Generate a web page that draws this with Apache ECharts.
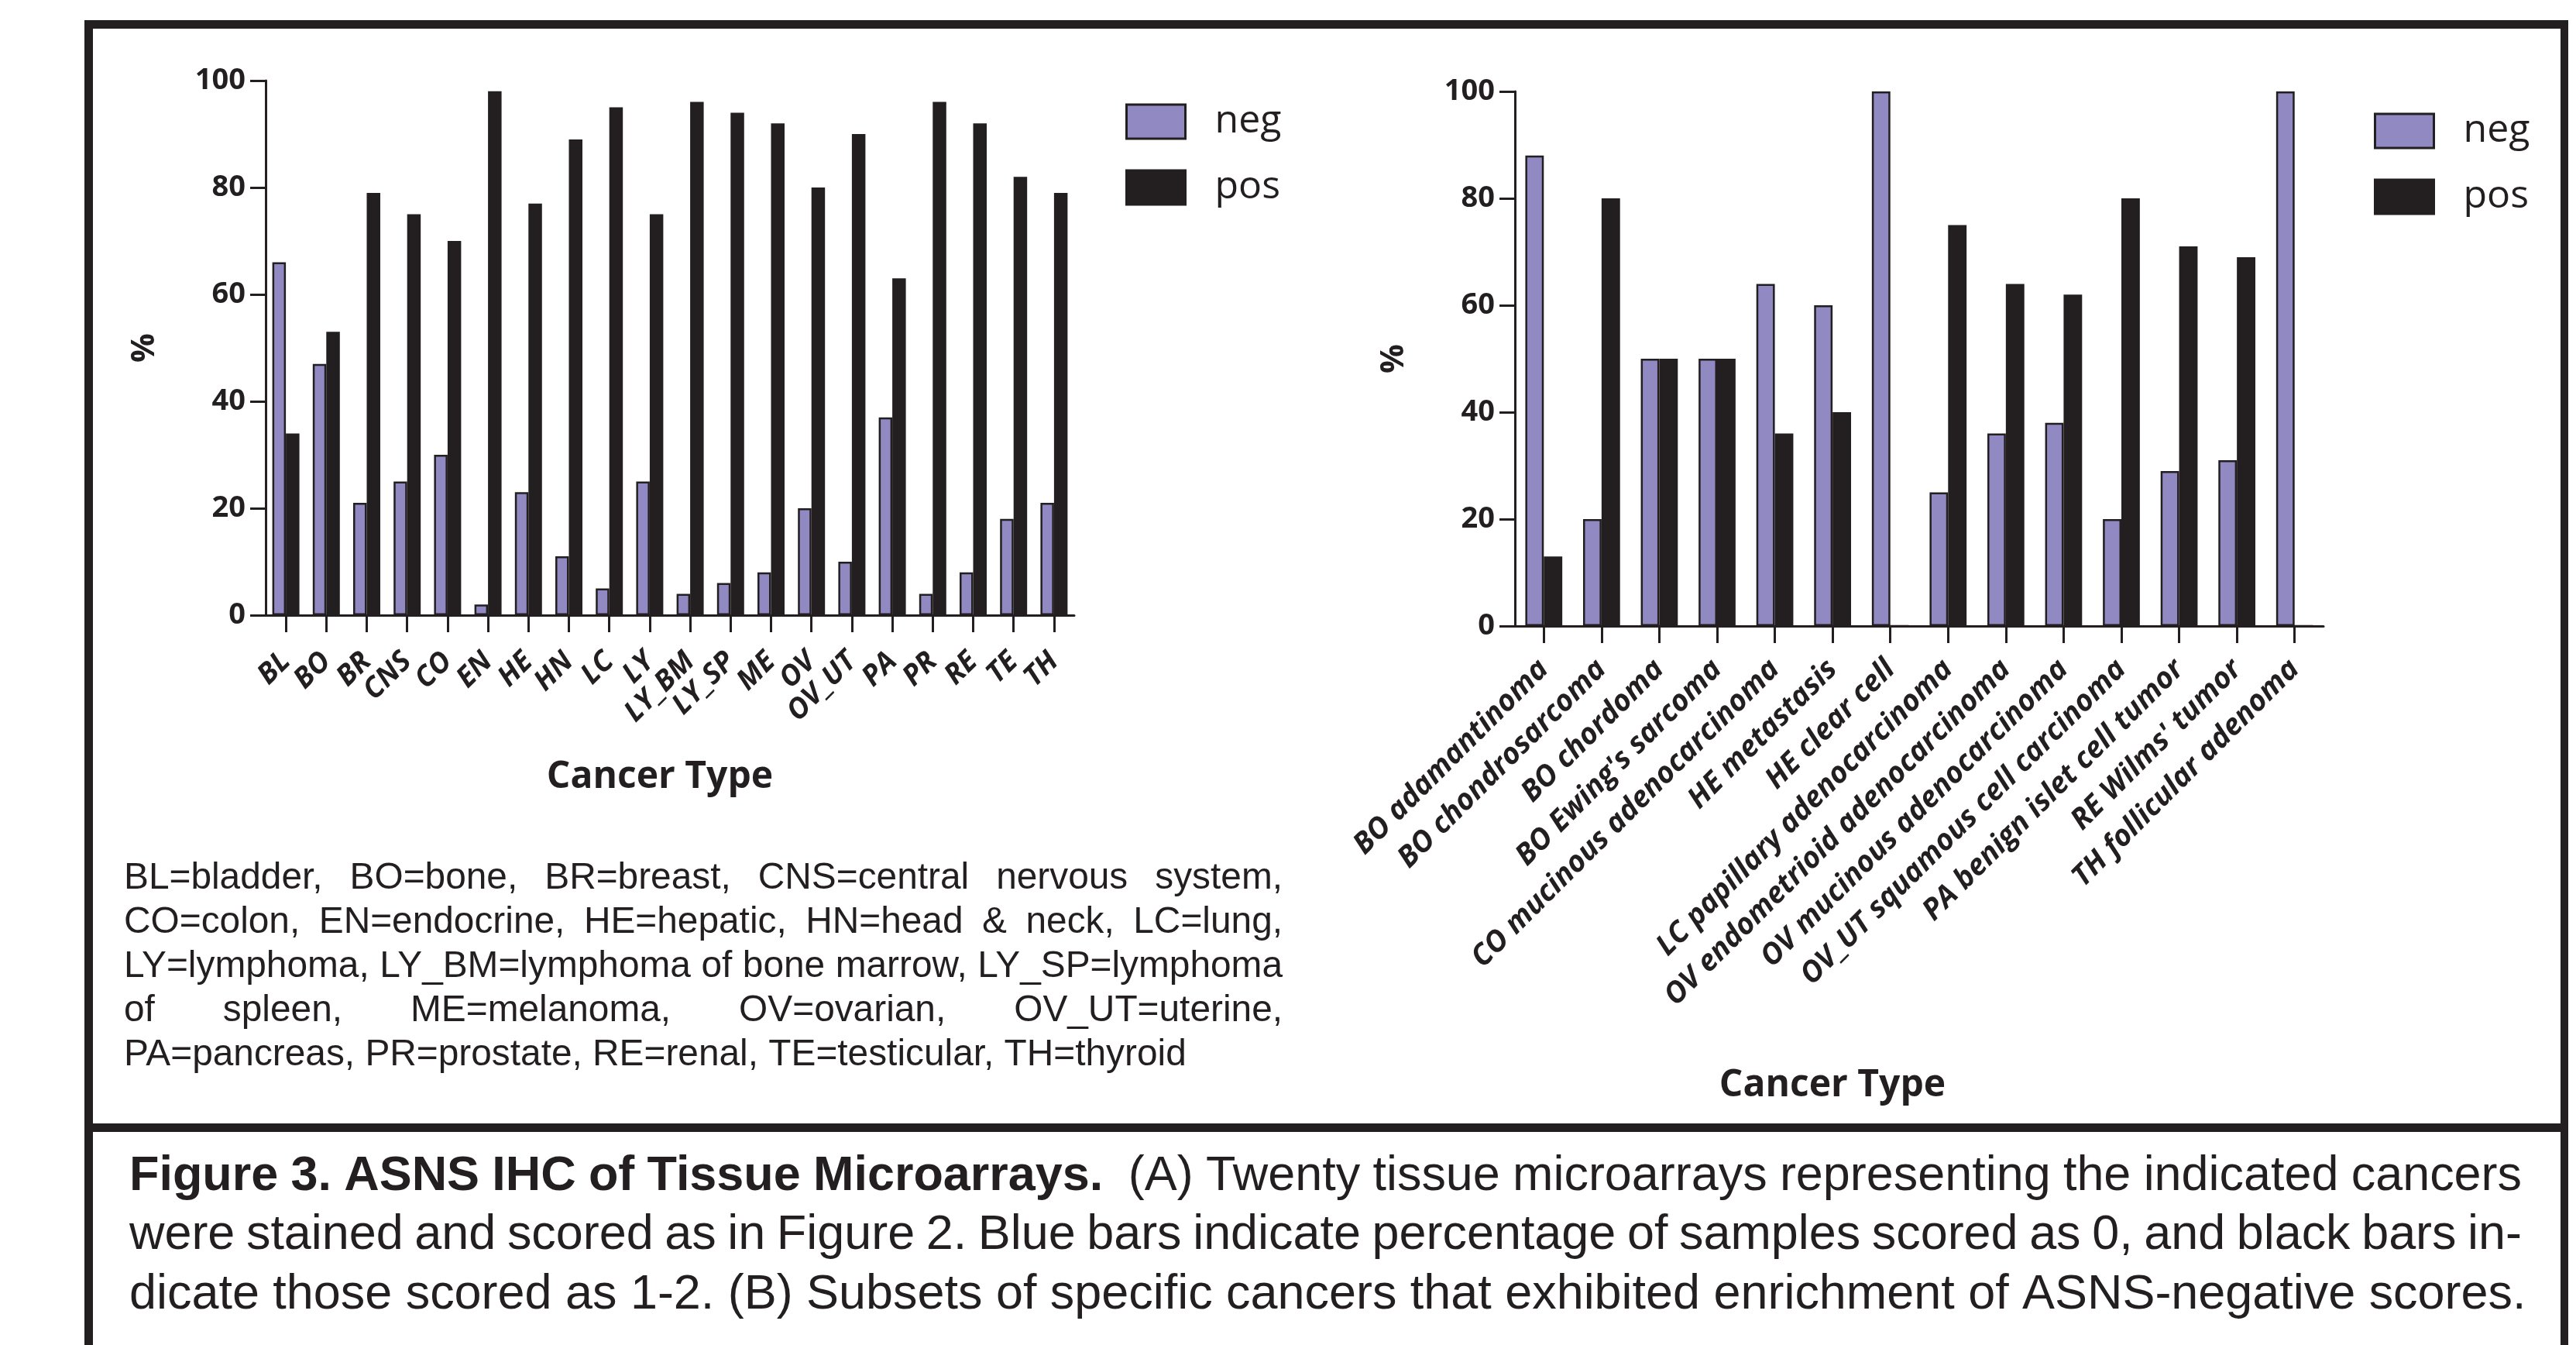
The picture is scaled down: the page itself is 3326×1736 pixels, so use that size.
<!DOCTYPE html>
<html><head><meta charset="utf-8">
<style>html,body{margin:0;padding:0;background:#fff}#c{width:3326px;height:1736px}</style>
<script src="https://cdn.jsdelivr.net/npm/echarts@6/dist/echarts.min.js"></script>
</head><body><div id="c"></div>
<script>
// ---------- data ----------
const catsA = ['BL','BO','BR','CNS','CO','EN','HE','HN','LC','LY','LY_BM','LY_SP','ME','OV','OV_UT','PA','PR','RE','TE','TH'];
const negA = [66,47,21,25,30,2,23,11,5,25,4,6,8,20,10,37,4,8,18,21];
const posA = [34,53,79,75,70,98,77,89,95,75,96,94,92,80,90,63,96,92,82,79];

const catsB = ['BO adamantinoma','BO chondrosarcoma','BO chordoma',"BO Ewing's sarcoma",'CO mucinous adenocarcinoma','HE metastasis','HE clear cell','LC papillary adenocarcinoma','OV endometrioid adenocarcinoma','OV mucinous adenocarcinoma','OV_UT squamous cell carcinoma','PA benign islet cell tumor',"RE Wilms' tumor",'TH follicular adenoma'];
const negB = [88,20,50,50,64,60,100,25,36,38,20,29,31,100];
const posB = [13,80,50,50,36,40,0,75,64,62,80,71,69,0];

const seriesNames = ['neg','pos'];
const yMin = 0, yMax = 100, yStep = 20;
const yName = '%';
const xName = 'Cancer Type';

const abbrevLines = [
  'BL=bladder, BO=bone, BR=breast, CNS=central nervous system,',
  'CO=colon, EN=endocrine, HE=hepatic, HN=head & neck, LC=lung,',
  'LY=lymphoma, LY_BM=lymphoma of bone marrow, LY_SP=lymphoma',
  'of spleen, ME=melanoma, OV=ovarian, OV_UT=uterine,',
  'PA=pancreas, PR=prostate, RE=renal, TE=testicular, TH=thyroid'
];
const captionBold = 'Figure 3. ASNS IHC of Tissue Microarrays.';
const captionLines = [
  '(A) Twenty tissue microarrays representing the indicated cancers',
  'were stained and scored as in Figure 2. Blue bars indicate percentage of samples scored as 0, and black bars in-',
  'dicate those scored as 1-2. (B) Subsets of specific cancers that exhibited enrichment of ASNS-negative scores.'
];

// ---------- styles ----------
const INK = '#231f20';
const PURPLE = '#9189c1';
const SANS = '"Open Sans"';
const ARIAL = '"Liberation Sans"';

// ---------- text layout helpers ----------
const ctx = document.createElement('canvas').getContext('2d');
function mw(text, font){ ctx.font = font; return ctx.measureText(text).width; }
function textEl(t, x, y, font){
  return {type:'text', x:x, y:y, silent:true, z:10,
    style:{text:t, font:font, fill:INK, textAlign:'left', textVerticalAlign:'middle'}};
}
// tokens: [{t, font, g}] g = weight of gap after token
function lineEls(tokens, x0, x1, y, justify){
  const widths = tokens.map(k => mw(k.t, k.font));
  const total = widths.reduce((a,b)=>a+b,0);
  let unit;
  const weights = tokens.slice(0,-1).map(k => k.g || 1);
  const wsum = weights.reduce((a,b)=>a+b,0);
  if (justify && wsum > 0) unit = (x1 - x0 - total) / wsum;
  else unit = mw(' ', tokens[0].font);
  let x = x0; const els = [];
  tokens.forEach((k,i) => {
    els.push(textEl(k.t, x, y, k.font));
    x += widths[i] + (i < weights.length ? unit*weights[i] : 0);
  });
  return els;
}
function toks(str, font){ return str.split(/\s+/).filter(s=>s).map(t=>({t:t, font:font})); }

const graphics = [];
// frame
graphics.push({type:'rect', silent:true, shape:{x:109,y:26,width:11,height:1720}, style:{fill:INK}});
graphics.push({type:'rect', silent:true, shape:{x:3306,y:26,width:10,height:1720}, style:{fill:INK}});
graphics.push({type:'rect', silent:true, shape:{x:109,y:26,width:3207,height:11}, style:{fill:INK}});
graphics.push({type:'rect', silent:true, shape:{x:109,y:1450,width:3207,height:11}, style:{fill:INK}});

// abbreviation paragraph
const abFs = 45 * 1372 / mw(abbrevLines[4], '45px ' + ARIAL);
const abFont = abFs.toFixed(2) + 'px ' + ARIAL;
abbrevLines.forEach((ln, i) => {
  const base = 1150 + i*57;
  const y = base - 0.33*abFs;
  graphics.push(...lineEls(toks(ln, abFont), 160, 1656, y, i < 4));
});

// caption
const capFs = 61 * 3095 / mw(captionLines[2], '61px ' + ARIAL);
const capFont = capFs.toFixed(2) + 'px ' + ARIAL;
const capBold = 'bold ' + capFont;
{
  const t1 = toks(captionBold, capBold);
  t1[t1.length-1].g = 2;
  const all1 = t1.concat(toks(captionLines[0], capFont));
  graphics.push(...lineEls(all1, 167, 3256, 1539 - 0.33*capFs, true));
  graphics.push(...lineEls(toks(captionLines[1], capFont), 167, 3256, 1615 - 0.33*capFs, true));
  graphics.push(...lineEls(toks(captionLines[2], capFont), 167, 3262, 1692 - 0.33*capFs, false));
}

// ---------- chart ----------
const axisLine = {show:true, lineStyle:{color:INK, width:3}};
function xAx(idx, cats, fs, margin, nameGap, namePadRight){
  return {type:'category', gridIndex:idx, data:cats, boundaryGap:true,
    axisLine:axisLine,
    axisTick:{show:true, alignWithLabel:true, length:22, lineStyle:{color:INK, width:3}},
    axisLabel:{interval:0, rotate:45, margin:margin, color:INK, fontFamily:SANS, fontWeight:'bold', fontStyle:'italic', fontSize:fs},
    splitLine:{show:false},
    name:xName, nameLocation:'middle', nameGap:nameGap, nameMoveOverlap:false,
    nameTextStyle:{fontFamily:SANS, fontWeight:'bold', fontSize:48, color:INK, verticalAlign:'middle', padding:[0, namePadRight, 0, 0]}};
}
function yAx(idx){
  return {type:'value', gridIndex:idx, min:yMin, max:yMax, interval:yStep,
    axisLine:axisLine,
    axisTick:{show:true, length:20, lineStyle:{color:INK, width:3}},
    axisLabel:{margin:26, color:INK, fontFamily:SANS, fontWeight:'bold', fontSize:38},
    splitLine:{show:false},
    name:yName, nameLocation:'middle', nameRotate:90, nameGap:156, nameMoveOverlap:false,
    nameTextStyle:{fontFamily:SANS, fontWeight:'bold', fontSize:42, color:INK, verticalAlign:'middle', align:'center'}};
}
function bars(idx, neg, pos, gap){
  return [
    {name:seriesNames[0], type:'bar', xAxisIndex:idx, yAxisIndex:idx, data:neg, barGap:'0%', barCategoryGap:gap,
      itemStyle:{color:PURPLE, borderColor:INK, borderWidth:2.5}},
    {name:seriesNames[1], type:'bar', xAxisIndex:idx, yAxisIndex:idx, data:pos, barGap:'0%', barCategoryGap:gap,
      itemStyle:{color:INK, borderColor:INK, borderWidth:2.5}}
  ];
}
function legend(left, top){
  return {data:seriesNames, left:left, top:top, orient:'vertical', padding:0,
    itemWidth:76, itemHeight:44, itemGap:35, icon:'rect', selectedMode:false,
    itemStyle:{borderColor:INK, borderWidth:3},
    textStyle:{fontFamily:SANS, fontSize:50, color:INK, lineHeight:44, padding:[0,0,0,33]}};
}

const chart = echarts.init(document.getElementById('c'), null, {renderer:'canvas'});
chart.setOption({
  animation:false,
  backgroundColor:'#ffffff',
  textStyle:{fontFamily:SANS, color:INK},
  grid:[
    {left:343, top:104, width:1044, height:690, containLabel:false, outerBoundsMode:'none'},
    {left:1956, top:118, width:1044, height:690, containLabel:false, outerBoundsMode:'none'}
  ],
  xAxis:[xAx(0, catsA, 37, 54, 209, 26), xAx(1, catsB, 38, 50, 593, 224)],
  yAxis:[yAx(0), yAx(1)],
  legend:[legend(1453,132), legend(3065,144)],
  series:[].concat(bars(0, negA, posA, '33%'), bars(1, negB, posB, '36%')),
  graphic:{elements:graphics}
});
</script></body></html>
